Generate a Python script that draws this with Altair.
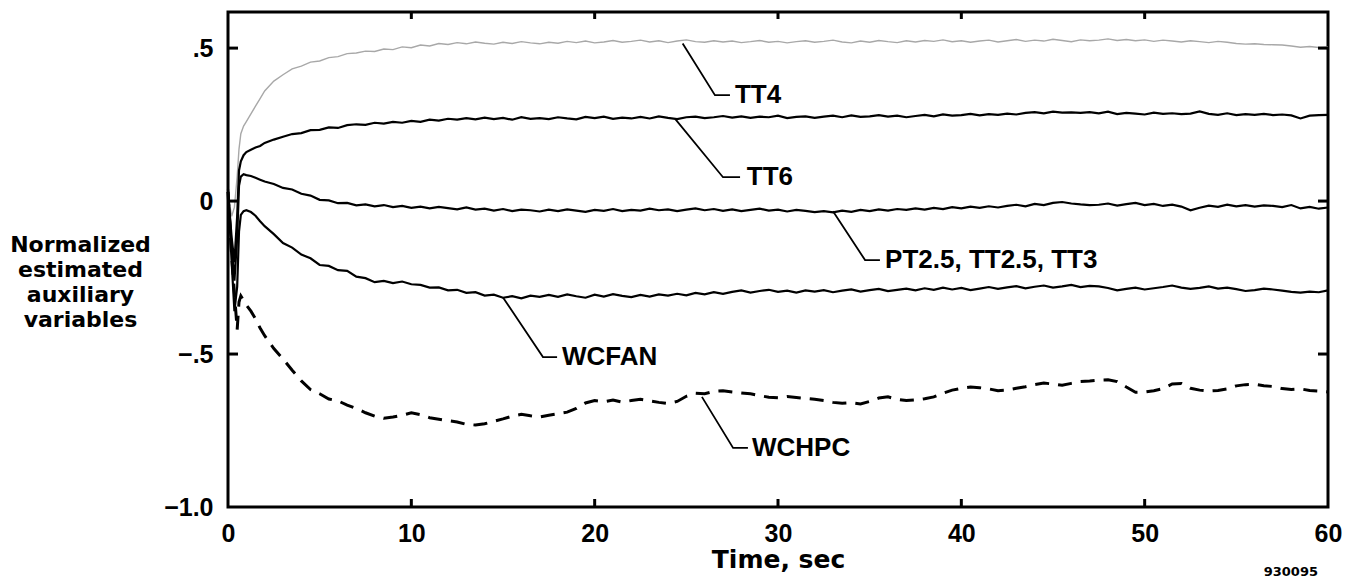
import altair as alt
import pandas as pd

# Sample times (s): dense through the start-up transient, then every 0.5 s
time_s = [0.0, 0.2, 0.35, 0.5, 0.6, 0.7, 0.85, 1.0, 1.25, 1.5, 1.75, 2.0] + [
    2.5 + 0.5 * i for i in range(116)
]

tt4 = [
    0.02, -0.05, -0.02, 0.08, 0.17, 0.22, 0.245, 0.26, 0.285, 0.31, 0.335, 0.36,
    0.392, 0.413, 0.432, 0.441, 0.454, 0.458, 0.469, 0.472, 0.482, 0.484,
    0.49, 0.489, 0.497, 0.495, 0.504, 0.501, 0.51, 0.507, 0.515, 0.512,
    0.518, 0.514, 0.52, 0.516, 0.513, 0.519, 0.515, 0.521, 0.517, 0.514,
    0.519, 0.516, 0.522, 0.518, 0.523, 0.517, 0.52, 0.525, 0.519, 0.522,
    0.526, 0.52, 0.524, 0.518, 0.523, 0.527, 0.521, 0.519, 0.524, 0.52,
    0.523, 0.518, 0.521, 0.525, 0.519, 0.522, 0.517, 0.521, 0.524, 0.519,
    0.522, 0.526, 0.52, 0.517, 0.523, 0.519, 0.525, 0.521, 0.518, 0.524,
    0.52, 0.525, 0.522, 0.527, 0.521, 0.524, 0.519, 0.523, 0.526, 0.52,
    0.524, 0.528, 0.522, 0.526, 0.523, 0.529, 0.525, 0.521, 0.527, 0.524,
    0.526, 0.53, 0.525, 0.528, 0.524, 0.527, 0.522, 0.526, 0.523, 0.52,
    0.524, 0.521, 0.518, 0.522, 0.519, 0.515, 0.513, 0.514, 0.512, 0.511,
    0.51, 0.507, 0.503, 0.505, 0.502, 0.504,
]

tt6 = [
    0.03, -0.12, -0.2, -0.05, 0.1, 0.13, 0.15, 0.16, 0.168, 0.175, 0.18, 0.19,
    0.201, 0.21, 0.219, 0.222, 0.232, 0.233, 0.241, 0.239, 0.248, 0.251,
    0.249, 0.256, 0.253, 0.259, 0.256, 0.262, 0.259, 0.266, 0.263, 0.269,
    0.266, 0.271, 0.267, 0.273, 0.268, 0.272, 0.266, 0.274, 0.269, 0.271,
    0.268, 0.274, 0.27, 0.267, 0.275, 0.271, 0.276, 0.269, 0.273, 0.27,
    0.275, 0.27, 0.277, 0.272, 0.268, 0.274, 0.276, 0.271, 0.274, 0.278,
    0.273, 0.277, 0.272, 0.276, 0.274, 0.279, 0.271, 0.275, 0.277, 0.272,
    0.276, 0.279, 0.274, 0.28, 0.275, 0.277, 0.281, 0.276, 0.279, 0.274,
    0.278, 0.282, 0.277, 0.283, 0.279, 0.281, 0.285, 0.28, 0.284, 0.282,
    0.286, 0.283, 0.288, 0.291, 0.287, 0.292, 0.289, 0.29, 0.288, 0.291,
    0.287, 0.292, 0.284, 0.288, 0.286, 0.283, 0.289, 0.285, 0.287, 0.284,
    0.286, 0.293, 0.285, 0.282, 0.287, 0.281, 0.284, 0.282, 0.285, 0.281,
    0.283, 0.28, 0.27, 0.279, 0.281, 0.282,
]

pt25 = [
    0.04, -0.15, -0.26, -0.12, 0.05, 0.08, 0.088, 0.085, 0.082, 0.076, 0.07, 0.064,
    0.056, 0.043, 0.038, 0.024, 0.018, 0.004, 0.002, -0.007, -0.006, -0.014,
    -0.011, -0.017, -0.013, -0.02, -0.016, -0.022, -0.018, -0.024, -0.019, -0.023,
    -0.027, -0.021, -0.028, -0.025, -0.031, -0.026, -0.033, -0.028, -0.03, -0.034,
    -0.028, -0.033, -0.027, -0.031, -0.035, -0.029, -0.032, -0.026, -0.033, -0.029,
    -0.031, -0.025, -0.03, -0.027, -0.033, -0.028, -0.024, -0.03, -0.026, -0.032,
    -0.027, -0.033, -0.029, -0.025, -0.031, -0.028, -0.034, -0.029, -0.032, -0.036,
    -0.033, -0.037, -0.031, -0.035, -0.029, -0.033, -0.027, -0.031, -0.026, -0.029,
    -0.024, -0.028, -0.022, -0.026, -0.02, -0.024, -0.018, -0.022, -0.017, -0.021,
    -0.016, -0.012, -0.017, -0.009, -0.013, -0.006, -0.003, -0.008, -0.011, -0.013,
    -0.012, -0.008, -0.015, -0.01, -0.006, -0.013, -0.009, -0.016, -0.012, -0.018,
    -0.03, -0.022, -0.015, -0.019, -0.012, -0.017, -0.013, -0.018, -0.014, -0.016,
    -0.02, -0.013, -0.024, -0.019, -0.025, -0.021,
]

wcfan = [
    0.03, -0.2, -0.36, -0.28, -0.1, -0.045, -0.033, -0.03, -0.036, -0.048, -0.066, -0.082,
    -0.108, -0.137, -0.152, -0.175, -0.187, -0.209, -0.212, -0.226, -0.228, -0.247,
    -0.252, -0.265, -0.261, -0.268, -0.263, -0.272, -0.274, -0.283, -0.282, -0.292,
    -0.29, -0.3, -0.298, -0.309, -0.306, -0.316, -0.311, -0.318, -0.309, -0.313,
    -0.307, -0.313, -0.305, -0.311, -0.316, -0.306, -0.312, -0.304, -0.31, -0.314,
    -0.307, -0.312, -0.305, -0.309, -0.303, -0.308, -0.3, -0.305, -0.298, -0.303,
    -0.297, -0.292, -0.299, -0.294, -0.29, -0.297, -0.293, -0.299, -0.292, -0.296,
    -0.291, -0.298, -0.293, -0.289, -0.296, -0.291, -0.287, -0.294, -0.29, -0.286,
    -0.292, -0.285, -0.29, -0.283, -0.289, -0.284, -0.291, -0.286, -0.281, -0.287,
    -0.282, -0.278, -0.285, -0.28, -0.276, -0.283, -0.279, -0.274, -0.281, -0.277,
    -0.279, -0.284, -0.292, -0.287, -0.283, -0.289, -0.285, -0.281, -0.276, -0.283,
    -0.287, -0.284, -0.279, -0.286, -0.283, -0.288, -0.294, -0.291, -0.286, -0.289,
    -0.293, -0.297, -0.299, -0.296, -0.298, -0.292,
]

wchpc = [
    0.03, -0.18, -0.3, -0.42, -0.33, -0.31, -0.325, -0.34, -0.36, -0.385, -0.415, -0.44,
    -0.482, -0.516, -0.553, -0.588, -0.616, -0.63, -0.647, -0.653, -0.667, -0.678,
    -0.692, -0.703, -0.71, -0.706, -0.7, -0.692, -0.698, -0.708, -0.713, -0.718,
    -0.722, -0.73, -0.732, -0.728, -0.72, -0.712, -0.703, -0.697, -0.702, -0.706,
    -0.7, -0.695, -0.69, -0.678, -0.66, -0.652, -0.656, -0.65, -0.657, -0.652,
    -0.648, -0.653, -0.658, -0.662, -0.655, -0.638, -0.628, -0.63, -0.622, -0.62,
    -0.624, -0.627, -0.63, -0.636, -0.641, -0.643, -0.639, -0.642, -0.645, -0.648,
    -0.652, -0.658, -0.661, -0.659, -0.663, -0.655, -0.644, -0.64, -0.648, -0.652,
    -0.65, -0.646, -0.64, -0.628, -0.618, -0.612, -0.608, -0.61, -0.614, -0.62,
    -0.618, -0.612, -0.607, -0.6, -0.595, -0.598, -0.602, -0.596, -0.59, -0.588,
    -0.585, -0.584, -0.59, -0.608, -0.625, -0.624, -0.62, -0.613, -0.598, -0.596,
    -0.612, -0.618, -0.621, -0.619, -0.614, -0.604, -0.6, -0.599, -0.604, -0.606,
    -0.613, -0.616, -0.614, -0.619, -0.621, -0.624,
]

# Callout labels: point on the trace, elbow, end of the short horizontal run
label_text = ["TT4", "TT6", "PT2.5, TT2.5, TT3", "WCFAN", "WCHPC"]
leader_t0 = [24.8, 24.4, 33.0, 15.0, 25.85]
leader_v0 = [0.515, 0.268, -0.033, -0.315, -0.64]
leader_t1 = [26.56, 27.0, 34.75, 17.18, 27.55]
leader_t2 = [27.38, 27.93, 35.56, 17.95, 28.36]
label_v = [0.346, 0.078, -0.193, -0.51, -0.807]
label_t = [27.65, 28.3, 35.84, 18.22, 28.58]

x_tick_values = [0, 10, 20, 30, 40, 50, 60]
y_tick_values = [-1.0, -0.5, 0.0, 0.5]
inner_x_ticks = [10, 20, 30, 40, 50]
inner_y_ticks = [-0.5, 0.0, 0.5]

W, H = 1100, 495
WIDE = "DejaVu Sans"
NARROW = "Liberation Sans"

series = {"TT4": tt4, "TT6": tt6, "PT2.5": pt25, "WCFAN": wcfan, "WCHPC": wchpc}
records = []
for name, vals in series.items():
    for t, v in zip(time_s, vals):
        records.append({"t": t, "v": v, "series": name})
traces = pd.DataFrame(records)

leader_rows = []
for i, name in enumerate(label_text):
    pts = [(leader_t0[i], leader_v0[i]), (leader_t1[i], label_v[i]), (leader_t2[i], label_v[i])]
    for k, (t, v) in enumerate(pts):
        leader_rows.append({"id": name, "k": k, "t": t, "v": v})
leaders = pd.DataFrame(leader_rows)
labels = pd.DataFrame({"t": label_t, "v": label_v, "label": label_text})

x_scale = alt.Scale(domain=[0, 60], nice=False, zero=False)
y_scale = alt.Scale(domain=[-1.0, 0.618], nice=False, zero=False)

x_axis = alt.Axis(
    values=x_tick_values, ticks=False, domain=False, grid=False,
    labelFont=NARROW, labelFontSize=25, labelFontWeight="bold", labelColor="black",
    labelPadding=14, labelFlush=False, labelOverlap=False,
    title="Time, sec", titleFont=WIDE, titleFontSize=25, titleFontWeight="bold",
    titleColor="black", titlePadding=1,
)
y_axis = alt.Axis(
    values=y_tick_values, ticks=False, domain=False, grid=False,
    labelExpr="datum.value == 0.5 ? '.5' : datum.value == 0 ? '0' : datum.value == -0.5 ? '\u2212.5' : '\u22121.0'",
    labelFont=NARROW, labelFontSize=25, labelFontWeight="bold", labelColor="black",
    labelPadding=15, labelFlush=False, labelOverlap=False,
    title=["Normalized", "estimated", "auxiliary", "variables"],
    titleAngle=0, titleAlign="center", titleBaseline="top",
    titleX=-148, titleY=222, titleLineHeight=25,
    titleFont=WIDE, titleFontSize=22, titleFontWeight="bold", titleColor="black",
)

base = alt.Chart(traces)
x_enc = alt.X("t:Q", scale=x_scale, axis=x_axis)
y_enc = alt.Y("v:Q", scale=y_scale, axis=y_axis)

tt4_line = base.transform_filter(alt.datum.series == "TT4").mark_line(
    color="#a8a8a8", strokeWidth=1.4
).encode(x=x_enc, y=y_enc)

solid_lines = base.transform_filter(
    alt.FieldOneOfPredicate(field="series", oneOf=["TT6", "PT2.5", "WCFAN"])
).mark_line(color="black", strokeWidth=2.2).encode(
    x=alt.X("t:Q", scale=x_scale), y=alt.Y("v:Q", scale=y_scale), detail="series:N"
)

dashed_line = base.transform_filter(alt.datum.series == "WCHPC").mark_line(
    color="black", strokeWidth=3, strokeDash=[14, 9]
).encode(x=alt.X("t:Q", scale=x_scale), y=alt.Y("v:Q", scale=y_scale))

leader_lines = alt.Chart(leaders).mark_line(color="black", strokeWidth=1.8).encode(
    x=alt.X("t:Q", scale=x_scale), y=alt.Y("v:Q", scale=y_scale),
    detail="id:N", order="k:Q",
)

label_marks = alt.Chart(labels).mark_text(
    align="left", baseline="middle", font=NARROW, fontSize=26, fontWeight="bold", color="black"
).encode(x=alt.X("t:Q", scale=x_scale), y=alt.Y("v:Q", scale=y_scale), text="label:N")

# Inward-pointing tick marks on all four sides of the frame
tick_y_df = pd.DataFrame({"v": inner_y_ticks})
tick_x_df = pd.DataFrame({"t": inner_x_ticks})
left_ticks = alt.Chart(tick_y_df).mark_rule(color="black", strokeWidth=3).encode(
    y=alt.Y("v:Q", scale=y_scale), x=alt.value(0), x2=alt.value(10)
)
right_ticks = alt.Chart(tick_y_df).mark_rule(color="black", strokeWidth=3).encode(
    y=alt.Y("v:Q", scale=y_scale), x=alt.value(W), x2=alt.value(W - 10)
)
top_ticks = alt.Chart(tick_x_df).mark_rule(color="black", strokeWidth=3).encode(
    x=alt.X("t:Q", scale=x_scale), y=alt.value(0), y2=alt.value(7)
)
bottom_ticks = alt.Chart(tick_x_df).mark_rule(color="black", strokeWidth=3).encode(
    x=alt.X("t:Q", scale=x_scale), y=alt.value(H), y2=alt.value(H - 8)
)

figure_id = alt.Chart(pd.DataFrame({"txt": ["930095"]})).mark_text(
    align="right", baseline="middle", font=WIDE, fontSize=13, fontWeight="bold", color="black"
).encode(x=alt.value(W - 10), y=alt.value(H + 65), text="txt:N")

chart = alt.layer(
    tt4_line, solid_lines, dashed_line, leader_lines, label_marks,
    left_ticks, right_ticks, top_ticks, bottom_ticks, figure_id,
).properties(
    width=W, height=H,
    autosize=alt.AutoSizeParams(type="none"),
    padding={"left": 228, "top": 12, "right": 26, "bottom": 75},
    background="white",
).configure_view(stroke="black", strokeWidth=3)

chart.save("out.html", embed_options={"renderer": "svg", "actions": False})
